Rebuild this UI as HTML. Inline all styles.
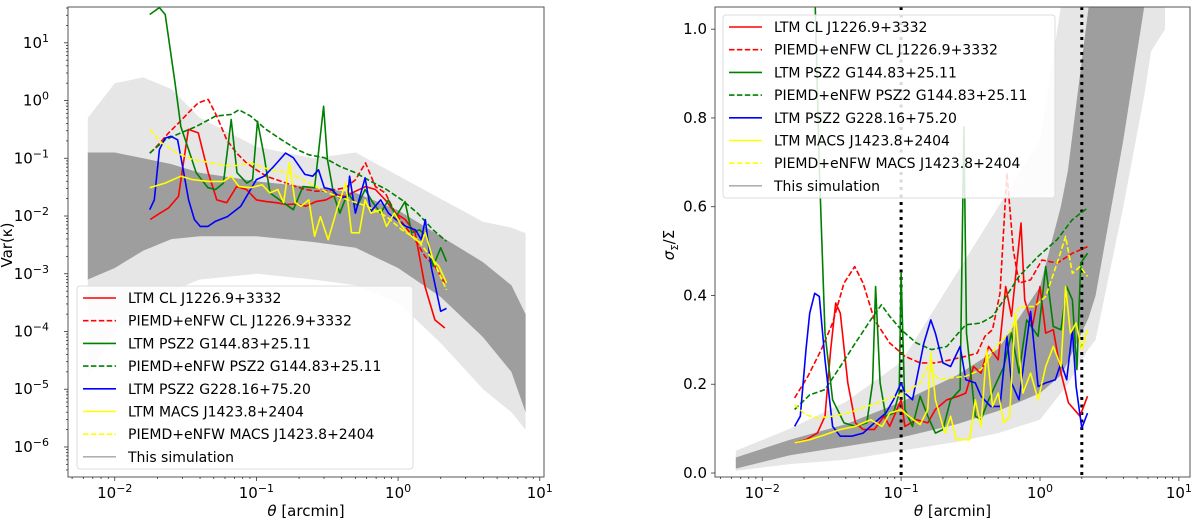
<!DOCTYPE html>
<html><head><meta charset="utf-8"><style>
html,body{margin:0;padding:0;background:#fff;}
svg{display:block;font-family:"DejaVu Sans","Liberation Sans",sans-serif;}
</style></head><body>
<svg id="fig" width="1200" height="524" viewBox="0 0 1200 524" xmlns="http://www.w3.org/2000/svg">
<g id="left"></g>
<g id="right"></g>
</svg>
<script>
// ---- shared data: gray simulation envelopes (log10 theta) ----
const envLeftX   = [-2.19,-2.0,-1.8,-1.6,-1.4,-1.0,-0.6,-0.3,0.0,0.3,0.6,0.8,0.9];
const envLeftLightLo = [-4.8,-4.0,-3.6,-3.3,-3.1,-3.0,-3.1,-3.2,-3.5,-4.2,-5.0,-5.4,-5.7];
const envLeftLightHi = [-0.3,0.3,0.4,0.2,-0.3,-0.8,-1.0,-0.9,-1.3,-1.7,-2.1,-2.2,-2.3];
const envLeftCoreLo  = [-3.1,-2.9,-2.6,-2.4,-2.35,-2.35,-2.45,-2.55,-2.9,-3.4,-4.1,-4.7,-5.4];
const envLeftCoreHi  = [-0.9,-0.9,-1.0,-1.1,-1.25,-1.4,-1.5,-1.6,-1.9,-2.35,-2.8,-3.2,-3.7];

const envRightX   = [-2.19,-1.8,-1.4,-1.0,-0.6,-0.3,0.0,0.15,0.2,0.35,0.4,0.6,0.75,0.8,0.9];
const envRightLightLo = [0.005,0.02,0.03,0.05,0.07,0.09,0.12,0.18,0.2,0.28,0.3,0.6,0.85,0.95,1.0];
const envRightLightHi = [0.05,0.1,0.16,0.25,0.45,0.6,0.75,1.05,1.05,1.05,1.05,1.05,1.05,1.05,1.05];
const envRightCoreLo  = [0.01,0.04,0.06,0.08,0.11,0.14,0.18,0.22,0.25,0.35,0.4,0.75,1.05,1.05,1.05];
const envRightCoreHi  = [0.035,0.075,0.11,0.16,0.22,0.28,0.42,0.6,0.68,1.05,1.05,1.05,1.05,1.05,1.05];

// ---- left panel series: log10 theta, log10 Var(kappa) ----
const L_redX = [-1.75,-1.68,-1.62,-1.55,-1.48,-1.41,-1.34,-1.28,-1.21,-1.14,-1.07,-1.00,-0.93,-0.86,-0.79,-0.72,-0.65,-0.58,-0.51,-0.44,-0.37,-0.30,-0.23,-0.16,-0.09,-0.02,0.05,0.12,0.19,0.26,0.33];
const L_redY = [-2.06,-1.95,-1.86,-1.66,-0.50,-0.56,-1.25,-1.72,-1.77,-1.49,-1.54,-1.72,-1.75,-1.77,-1.80,-1.79,-1.83,-1.75,-1.72,-1.63,-1.66,-1.57,-1.49,-1.54,-1.72,-1.95,-2.06,-2.29,-3.22,-3.80,-3.94];
const L_redDX = L_redX;
const L_redDY = [-0.91,-0.73,-0.56,-0.39,-0.21,-0.04,0.02,-0.27,-0.68,-0.91,-1.08,-1.20,-1.31,-1.37,-1.43,-1.49,-1.54,-1.57,-1.57,-1.54,-1.51,-1.37,-1.08,-1.49,-1.60,-1.95,-2.18,-2.41,-2.70,-2.87,-3.16];
const L_grnX = [-1.753,-1.685,-1.644,-1.575,-1.534,-1.479,-1.425,-1.342,-1.288,-1.233,-1.178,-1.137,-1.068,-1.027,-0.992,-0.945,-0.904,-0.836,-0.740,-0.671,-0.589,-0.526,-0.499,-0.452,-0.411,-0.356,-0.288,-0.233,-0.178,-0.123,-0.068,-0.014,0.049,0.096,0.151,0.205,0.247,0.301,0.342];
const L_grnY = [1.49,1.61,1.49,0.31,-0.45,-0.85,-1.25,-1.51,-1.54,-1.43,-0.33,-1.25,-1.43,-1.37,-0.36,-0.97,-1.60,-1.72,-1.89,-1.49,-1.51,-0.10,-1.02,-1.66,-1.95,-1.60,-1.83,-1.54,-1.77,-1.95,-1.72,-2.01,-1.75,-2.29,-2.24,-2.35,-2.87,-2.55,-2.79];
const L_grnDX = [-1.753,-1.644,-1.534,-1.425,-1.288,-1.178,-1.123,-1.041,-0.932,-0.822,-0.712,-0.630,-0.521,-0.411,-0.301,-0.192,-0.082,0.027,0.137,0.247,0.342];
const L_grnDY = [-0.91,-0.68,-0.56,-0.45,-0.27,-0.24,-0.16,-0.27,-0.50,-0.68,-0.85,-0.94,-0.99,-1.14,-1.25,-1.40,-1.54,-1.72,-1.95,-2.24,-2.44];
const L_bluX = [-1.753,-1.721,-1.685,-1.644,-1.603,-1.556,-1.521,-1.479,-1.438,-1.397,-1.342,-1.288,-1.205,-1.110,-1.041,-1.000,-0.945,-0.877,-0.795,-0.740,-0.658,-0.603,-0.562,-0.521,-0.466,-0.411,-0.356,-0.342,-0.301,-0.233,-0.192,-0.123,-0.068,-0.014,0.055,0.123,0.164,0.192,0.233,0.301,0.342];
const L_bluY = [-1.89,-1.72,-0.85,-0.65,-0.62,-0.68,-1.14,-1.72,-2.06,-2.18,-2.18,-2.09,-2.01,-1.83,-1.54,-1.37,-1.31,-1.14,-0.91,-0.99,-1.28,-1.31,-1.20,-1.51,-1.54,-1.69,-1.66,-1.31,-1.95,-1.34,-1.92,-1.72,-1.95,-2.06,-2.18,-2.24,-2.41,-2.06,-2.87,-3.65,-3.60];
const L_yelX = [-1.753,-1.644,-1.534,-1.452,-1.342,-1.233,-1.178,-1.123,-1.041,-0.959,-0.904,-0.849,-0.808,-0.767,-0.726,-0.685,-0.630,-0.589,-0.548,-0.493,-0.425,-0.370,-0.329,-0.274,-0.233,-0.192,-0.123,-0.082,-0.027,0.027,0.068,0.123,0.164,0.192,0.247,0.288,0.342];
const L_yelY = [-1.51,-1.43,-1.31,-1.37,-1.40,-1.40,-1.31,-1.49,-1.51,-1.46,-1.60,-1.54,-1.77,-1.08,-1.77,-1.83,-1.72,-2.35,-2.01,-2.41,-1.83,-1.43,-2.29,-2.29,-1.72,-1.95,-1.89,-2.18,-1.95,-2.18,-2.29,-2.41,-2.47,-2.29,-2.76,-2.87,-3.16];
const L_yelDX = [-1.753,-1.671,-1.562,-1.452,-1.315,-1.178,-1.041,-0.904,-0.767,-0.630,-0.493,-0.356,-0.219,-0.082,0.027,0.137,0.247,0.342];
const L_yelDY = [-0.50,-0.73,-0.91,-1.02,-1.08,-1.14,-1.08,-1.20,-1.25,-1.43,-1.60,-1.72,-1.83,-2.01,-2.24,-2.41,-2.76,-3.28];

// ---- right panel series: log10 theta, sigma/Sigma ----
const R_redX = [-1.767,-1.685,-1.603,-1.548,-1.507,-1.471,-1.438,-1.384,-1.329,-1.274,-1.192,-1.123,-1.082,-1.000,-0.973,-0.890,-0.808,-0.753,-0.671,-0.589,-0.534,-0.479,-0.425,-0.370,-0.301,-0.247,-0.205,-0.137,-0.110,-0.055,0.000,0.041,0.096,0.151,0.205,0.288,0.342];
const R_redY = [0.068,0.075,0.09,0.128,0.278,0.383,0.36,0.203,0.113,0.098,0.098,0.128,0.105,0.165,0.105,0.12,0.113,0.143,0.165,0.173,0.18,0.24,0.225,0.285,0.255,0.42,0.353,0.563,0.39,0.33,0.42,0.315,0.323,0.225,0.158,0.128,0.173];
const R_redDX = [-1.767,-1.671,-1.575,-1.493,-1.411,-1.334,-1.274,-1.192,-1.082,-0.973,-0.863,-0.753,-0.644,-0.534,-0.452,-0.397,-0.342,-0.288,-0.238,-0.192,-0.151,-0.068,0.014,0.123,0.233,0.342];
const R_redDY = [0.169,0.218,0.278,0.338,0.428,0.465,0.428,0.345,0.293,0.263,0.248,0.248,0.255,0.263,0.27,0.308,0.323,0.405,0.676,0.503,0.428,0.435,0.48,0.473,0.495,0.51];
const R_grnX = [-1.622,-1.589,-1.548,-1.493,-1.411,-1.329,-1.247,-1.205,-1.184,-1.151,-1.110,-1.055,-1.014,-1.000,-0.973,-0.918,-0.863,-0.808,-0.753,-0.699,-0.644,-0.575,-0.548,-0.529,-0.466,-0.425,-0.370,-0.315,-0.260,-0.205,-0.151,-0.096,-0.014,0.041,0.096,0.151,0.192,0.233,0.266,0.293,0.342];
const R_grnY = [1.1,0.69,0.315,0.165,0.113,0.105,0.113,0.203,0.42,0.203,0.128,0.135,0.18,0.45,0.143,0.105,0.173,0.128,0.09,0.098,0.165,0.188,0.78,0.315,0.128,0.12,0.165,0.203,0.24,0.315,0.225,0.345,0.308,0.465,0.33,0.323,0.42,0.39,0.233,0.473,0.495];
const R_grnDX = [-1.767,-1.658,-1.548,-1.438,-1.329,-1.219,-1.142,-1.082,-1.000,-0.890,-0.781,-0.671,-0.589,-0.534,-0.425,-0.342,-0.260,-0.151,-0.014,0.123,0.233,0.342];
const R_grnDY = [0.143,0.176,0.188,0.24,0.293,0.345,0.379,0.353,0.323,0.293,0.278,0.285,0.315,0.334,0.338,0.353,0.39,0.443,0.488,0.526,0.571,0.597];
const R_bluX = [-1.767,-1.726,-1.685,-1.658,-1.622,-1.589,-1.548,-1.493,-1.438,-1.356,-1.274,-1.192,-1.110,-1.055,-1.000,-0.973,-0.918,-0.836,-0.786,-0.753,-0.699,-0.644,-0.575,-0.534,-0.466,-0.425,-0.356,-0.288,-0.238,-0.205,-0.151,-0.068,-0.014,0.041,0.110,0.151,0.192,0.233,0.260,0.301,0.342];
const R_bluY = [0.105,0.128,0.278,0.36,0.405,0.398,0.255,0.105,0.083,0.083,0.09,0.113,0.135,0.165,0.203,0.18,0.165,0.293,0.345,0.315,0.248,0.24,0.285,0.21,0.203,0.173,0.15,0.15,0.308,0.203,0.165,0.364,0.195,0.203,0.21,0.248,0.21,0.323,0.195,0.101,0.135];
const R_yelX = [-1.767,-1.658,-1.548,-1.438,-1.329,-1.219,-1.137,-1.082,-1.000,-0.945,-0.863,-0.808,-0.786,-0.753,-0.685,-0.644,-0.603,-0.507,-0.466,-0.425,-0.384,-0.342,-0.301,-0.260,-0.219,-0.178,-0.123,-0.068,-0.014,0.041,0.096,0.151,0.184,0.219,0.260,0.301,0.342];
const R_yelY = [0.068,0.075,0.086,0.098,0.105,0.12,0.105,0.135,0.143,0.128,0.109,0.143,0.27,0.165,0.09,0.128,0.075,0.075,0.165,0.105,0.278,0.15,0.18,0.113,0.128,0.36,0.18,0.225,0.165,0.24,0.285,0.24,0.42,0.315,0.338,0.278,0.323];
const R_yelDX = [-1.767,-1.685,-1.603,-1.493,-1.384,-1.247,-1.110,-0.973,-0.863,-0.808,-0.726,-0.644,-0.534,-0.425,-0.315,-0.205,-0.151,-0.041,0.041,0.123,0.184,0.233,0.288,0.342];
const R_yelDY = [0.154,0.131,0.124,0.128,0.135,0.15,0.165,0.18,0.203,0.24,0.21,0.214,0.218,0.233,0.285,0.323,0.375,0.375,0.398,0.473,0.533,0.45,0.465,0.443];

const legendLabels = ["LTM CL J1226.9+3332","PIEMD+eNFW CL J1226.9+3332","LTM PSZ2 G144.83+25.11","PIEMD+eNFW PSZ2 G144.83+25.11","LTM PSZ2 G228.16+75.20","LTM MACS J1423.8+2404","PIEMD+eNFW MACS J1423.8+2404","This simulation"];
const legendColors = ["#ff0000","#ff0000","#008000","#008000","#0000ff","#ffff00","#ffff00","#808080"];
const legendDashed = [false,true,false,true,false,false,true,false];
const leftYTicks = [1,0,-1,-2,-3,-4,-5,-6];
const rightYTicks = [0.0,0.2,0.4,0.6,0.8,1.0];
const xTicks = [-2,-1,0,1];
const vlines = [0.1, 2];

const NS = "http://www.w3.org/2000/svg";
function mk(tag, attrs, parent){ const e=document.createElementNS(NS,tag); for(const k in attrs) e.setAttribute(k,attrs[k]); if(parent) parent.appendChild(e); return e; }

function panel(g, cfg){
  const {x0,x1,y0,y1,xd0,xd1,yd0,yd1} = cfg;
  const sx = v => x0 + (v-xd0)/(xd1-xd0)*(x1-x0);
  const sy = v => y1 - (v-yd0)/(yd1-yd0)*(y1-y0);
  const clipId = cfg.id+"clip";
  const defs = mk("defs",{},g);
  const cp = mk("clipPath",{id:clipId},defs);
  mk("rect",{x:x0,y:y0,width:x1-x0,height:y1-y0},cp);
  const plot = mk("g",{"clip-path":"url(#"+clipId+")"},g);
  function band(xs, lo, hi, fill, name){
    let d="M"+xs.map((x,i)=>sx(x).toFixed(1)+","+sy(hi[i]).toFixed(1)).join("L");
    for(let i=xs.length-1;i>=0;i--) d+="L"+sx(xs[i]).toFixed(1)+","+sy(lo[i]).toFixed(1);
    const p = mk("path",{d:d+"Z",fill:fill,stroke:"none"},plot);
    
    
  }
  band(cfg.env[0],cfg.env[1],cfg.env[2],"#e6e6e6","simulation-envelope");
  band(cfg.env[0],cfg.env[3],cfg.env[4],"#9e9e9e","simulation-core");
  (cfg.vlines||[]).forEach(v=>{
    const l = mk("line",{x1:sx(Math.log10(v)),x2:sx(Math.log10(v)),y1:y0,y2:y1,stroke:"#000","stroke-width":3,"stroke-dasharray":"3,4.5"},plot);
    
    
  });
  cfg.series.forEach(s=>{
    const d = "M"+s.x.map((x,i)=>sx(x).toFixed(1)+","+sy(s.y[i]).toFixed(1)).join("L");
    const p = mk("path",{d:d,fill:"none",stroke:s.c,"stroke-width":1.6,"stroke-linejoin":"round"},plot);
    if(s.dash) p.setAttribute("stroke-dasharray","5.5,2.4");
    
    
  });
  const fr = mk("rect",{x:x0,y:y0,width:x1-x0,height:y1-y0,fill:"none",stroke:"#555","stroke-width":1},g);
  
  
  for(let dcd=-3; dcd<=1; dcd++){
    for(let m=1;m<10;m++){
      const lv = dcd+Math.log10(m);
      if(lv<xd0||lv>xd1) continue;
      mk("line",{x1:sx(lv),x2:sx(lv),y1:y1,y2:y1+(m===1?4:2),stroke:"#333","stroke-width":0.8},g);
    }
  }
  xTicks.forEach(t=>{
    const tx = mk("text",{x:sx(t),y:y1+21,"font-size":15,"text-anchor":"middle",fill:"#000"},g);
    
    
    tx.appendChild(document.createTextNode("10"));
    const sp = mk("tspan",{dy:-6,"font-size":11},tx); sp.textContent = t<0?"\u2212"+(-t):String(t);
  });
  const xl = mk("text",{x:(x0+x1)/2,y:y1+39,"font-size":15,"text-anchor":"middle",fill:"#000"},g);
  
  
  const th = mk("tspan",{"font-style":"italic"},xl); th.textContent="\u03b8";
  xl.appendChild(document.createTextNode(" [arcmin]"));
  cfg.yaxis(g, sx, sy);
  const L = cfg.legend;
  const lg = mk("g",{},g);
  
  
  mk("rect",{x:L.x,y:L.y,width:L.w,height:L.h,rx:3,fill:"#fff","fill-opacity":0.85,stroke:"#ddd"},lg);
  legendLabels.forEach((lab,i)=>{
    const yy = L.y+12+i*22.7;
    const ln = mk("line",{x1:L.x+6,x2:L.x+39,y1:yy,y2:yy,stroke:legendColors[i],"stroke-width":i===7?1:1.6},lg);
    if(legendDashed[i]) ln.setAttribute("stroke-dasharray","5.5,2.4");
    const t = mk("text",{x:L.x+51,y:yy+5,"font-size":14,fill:"#000"},lg);
    
    
    t.textContent = lab;
  });
}

const names = ["ltm-cl-j1226","piemd-cl-j1226","ltm-psz2-g144","piemd-psz2-g144","ltm-psz2-g228","ltm-macs-j1423","piemd-macs-j1423"];
panel(document.getElementById("left"),{
  id:"L", x0:68,x1:544,y0:7,y1:477, xd0:-2.33, xd1:1.03, yd0:-6.52, yd1:1.62,
  env:[envLeftX,envLeftLightLo,envLeftLightHi,envLeftCoreLo,envLeftCoreHi],
  series:[
    {x:L_redX,y:L_redY,c:"#ff0000",name:names[0]},
    {x:L_redDX,y:L_redDY,c:"#ff0000",dash:1,name:names[1]},
    {x:L_grnX,y:L_grnY,c:"#008000",name:names[2]},
    {x:L_grnDX,y:L_grnDY,c:"#008000",dash:1,name:names[3]},
    {x:L_bluX,y:L_bluY,c:"#0000ff",name:names[4]},
    {x:L_yelX,y:L_yelY,c:"#ffff00",name:names[5]},
    {x:L_yelDX,y:L_yelDY,c:"#ffff00",dash:1,name:names[6]}],
  legend:{x:77,y:286,w:336,h:183},
  yaxis:(g,sx,sy)=>{
    for(let dcd=-7; dcd<=1; dcd++) for(let m=1;m<10;m++){
      const lv=dcd+Math.log10(m); if(lv<-6.52||lv>1.62) continue;
      mk("line",{x1:68,x2:68-(m===1?4:2),y1:sy(lv),y2:sy(lv),stroke:"#333","stroke-width":0.8},g);
    }
    leftYTicks.forEach(t=>{
      const tx = mk("text",{x:49,y:sy(t)+5,"font-size":15,"text-anchor":"end",fill:"#000"},g);
      
      
      tx.appendChild(document.createTextNode("10"));
      const sp = mk("tspan",{dy:-6,"font-size":11},tx); sp.textContent = t<0?"\u2212"+(-t):String(t);
    });
    const yl = mk("text",{x:0,y:0,"font-size":15,"text-anchor":"middle",transform:"translate(12,245) rotate(-90)",fill:"#000"},g);
    
    
    yl.textContent = "Var(\u03ba)";
  }
});

panel(document.getElementById("right"),{
  id:"R", x0:715,x1:1190,y0:7,y1:477, xd0:-2.34, xd1:1.08, yd0:-0.009, yd1:1.05,
  env:[envRightX,envRightLightLo,envRightLightHi,envRightCoreLo,envRightCoreHi],
  vlines:vlines,
  series:[
    {x:R_redX,y:R_redY,c:"#ff0000",name:names[0]},
    {x:R_redDX,y:R_redDY,c:"#ff0000",dash:1,name:names[1]},
    {x:R_grnX,y:R_grnY,c:"#008000",name:names[2]},
    {x:R_grnDX,y:R_grnDY,c:"#008000",dash:1,name:names[3]},
    {x:R_bluX,y:R_bluY,c:"#0000ff",name:names[4]},
    {x:R_yelX,y:R_yelY,c:"#ffff00",name:names[5]},
    {x:R_yelDX,y:R_yelDY,c:"#ffff00",dash:1,name:names[6]}],
  legend:{x:723,y:15,w:332,h:183},
  yaxis:(g,sx,sy)=>{
    rightYTicks.forEach(t=>{
      mk("line",{x1:715,x2:711,y1:sy(t),y2:sy(t),stroke:"#333","stroke-width":0.8},g);
      const tx = mk("text",{x:707,y:sy(t)+5,"font-size":15,"text-anchor":"end",fill:"#000"},g);
      
      
      tx.textContent = t.toFixed(1);
    });
    const yl = mk("text",{x:0,y:0,"font-size":15,"text-anchor":"middle",transform:"translate(674,245) rotate(-90)",fill:"#000"},g);
    
    
    const s1 = mk("tspan",{"font-style":"italic"},yl); s1.textContent="\u03c3";
    const s2 = mk("tspan",{dy:4,"font-size":10},yl); s2.textContent="\u03a3";
    const s3 = mk("tspan",{dy:-4},yl); s3.textContent="/\u03a3";
  }
});
</script>
</body></html>
